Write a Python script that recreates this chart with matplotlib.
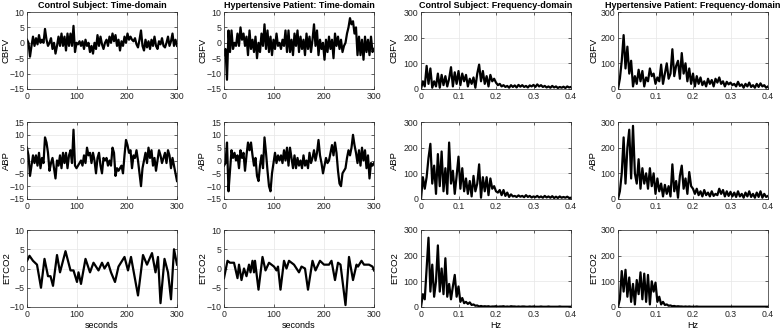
import numpy as np
import matplotlib
matplotlib.use("Agg")
import matplotlib.pyplot as plt

plt.rcParams['font.family'] = ['Liberation Sans', 'DejaVu Sans']

# time axis for the noisy time-domain traces (3 s steps)
t = np.arange(0, 301, 3)

cbfv_ctrl = [1, 0, -4.5, -1, 2, -1, 1.5, -0.5, 2.5, 0, 1, 0, 4.5, 1, -1, 0, 1.5, -2, 0, -3.5,
             -1, 2, -1, 3, -1, 2, -2.5, 3, -1, 3, -1, 5.5, -3, 0, -0.5, 0.5, -1, 0.5, -2, 1,
             -1, 0, -3, -1, -3.5, 0, -2, 2.5, -1, 2, -0.5, -2, 0, 1, -1, 2, 0, 3, 0.5, 2.5,
             -1, 1, -2.5, 0.5, -1, 2, 0, 3, 1, 2, 1, 0.5, 1.5, -0.5, -1.5, 1, 4, -1, -2.5, 1,
             -1.5, 0.5, -2, 1, -1, 2, -1, -2, 0.5, -0.5, 1.5, -1, -1.5, 0, 2, -1, 0.5, 3, -1, 1, -1]

cbfv_hyp = [-4, -2, -12, 4, -3, 4, -2, 0, -1, 3, -1, 5, 1, 3, -1, 2, -4, 4, -2, 1,
            -3, 2, -5, 0, -3, 3, -1, 6, -2, 4, -3, 2, -4, 1, -2, 3, -1, 0, -2, 1,
            -1, 4, -3, 4, -3, 1, -4, 3, -1, 4, -3, 2, -2, 1, -4, 3, -2, 2, -3, 1,
            6, -1, 4, -4, 1, -2, 0, -5.5, 1, -3, 2, -2, 1, -5, 3, -1, 2, -2, 1, -3,
            -1, 0, 3, 5, 8, 6, 7, 3, 5, -4, 2, -4, 1, -5.5, 2, -3, 1, -4, 2, -3, -2]

abp_ctrl = [5, 2, -6, -2, 2, -1, 2, -2, 3, -3, 1, -1, 9, 7, 3, -4, -1, 1, -3, -7,
            0, -2, 2, -3, 3, -1, 3, -3, 2, 4, -1, 12, -2, -3, -2, -1, 0, -2, 2, -1,
            5, 2, 3, -1, 3, 0, -5, 1, 3, -2, -5, 1, 0, 1, -2, 0, -2, 5, 3, -6,
            -3, -4, -3, -2, -5, 2, 8, 6, 3, 4, -3, 2, 1, 4, 0, -5, -10, -3, 0, 3,
            -1, 5, 1, 4, -2, 1, -4, 0, 4, 2, -1, 1, 3, -1, 4, 2, -3, 1, -2, -5, -8]

abp_hyp = [-2, -1, 7, -12, -4, 4, 1, 3, 0, 2, -3, 4, 1, 3, -4, 2, 7, 4, 7, 2,
           -2, 1, -6, -8, -2, 2, -3, 9, 3, -4, -10, -12, -5, -1, 3, -1, 2, 0, 2, -1,
           4, 0, 5, -2, 5, 1, -3, 2, -3, 1, -2, 0, -3, 2, -2, 0, -3, 3, -1, 1,
           4, 0, 3, 8, 2, -1, -5, -2, 1, -1, 0, 3, 6, 2, 7, 3, -4, -9, -10, -5,
           -4, -3, 1, 4, 2, 5, 10, 6, 3, -1, 4, -2, 5, 0, 4, -3, 2, -7, -1, -2, -1]

# smoother end-tidal CO2 traces, read at turning points
t_etco2_ctrl = [0, 5, 12, 20, 28, 35, 42, 47, 52, 60, 66, 77, 87, 93, 100, 103, 108, 117, 126,
                133, 143, 150, 155, 162, 168, 176, 183, 195, 202, 208, 222, 232, 240, 250, 257,
                262, 267, 275, 282, 288, 294, 300]
etco2_ctrl = [2, 3.3, 2, 1, -5, 2.5, -2, -2, -4.5, 3.5, -1, 4.5, -0.5, -0.5, -3.5, -1, -4, 2.5, -1,
              1.5, -0.5, 1.5, 0, 1.5, -1, -3.5, 0.5, 3, -0.5, 3, -7, 3.5, 1, 4, -1,
              3, -9, 2.5, -1, -8, 5, 1]

t_etco2_hyp = [0, 7, 12, 20, 27, 30, 35, 40, 45, 50, 53, 57, 60, 62, 69, 77, 83, 90, 100, 105,
               108, 113, 120, 125, 130, 140, 150, 155, 162, 168, 177, 183, 192, 200, 210, 215,
               222, 228, 233, 243, 250, 258, 265, 268, 275, 280, 290, 297, 300]
etco2_hyp = [-2.5, 2, 1.5, 1.5, -2.5, 1, -3, 0, -2, 1, -1, 2, -1, 2, -5.5, 3, -0.5, 1.5, 0.5, -0.5,
             0.5, -5.5, 2, 0, 2, 1, -1, 0.5, 0, -5.5, 2, -0.5, 2, 1, 1, 2,
             -3, 1.5, 1, -9.5, 3, -3, 1, 0.5, 2, 1, 1, 0.5, -0.5]

# spectra, 0.005 Hz steps
f = np.round(np.arange(0, 0.4001, 0.005), 3)

cbfv_spec_ctrl = [0, 30, 10, 90, 20, 80, 5, 30, 10, 60, 5, 55, 15, 50, 10, 40, 85, 10, 65, 20,
                  70, 15, 60, 30, 55, 10, 40, 20, 45, 5, 60, 95, 30, 70, 20, 50, 10, 55, 30, 40,
                  25, 15, 20, 10, 15, 8, 12, 5, 15, 8, 14, 6, 16, 9, 15, 8, 12, 6, 14, 10,
                  16, 8, 18, 10, 15, 8, 12, 6, 10, 5, 12, 6, 10, 4, 8, 5, 9, 4, 10, 6, 8]

cbfv_spec_hyp = [0, 40, 110, 210, 80, 165, 60, 110, 10, 50, 20, 75, 30, 70, 10, 45, 30, 80, 50, 60,
                 20, 45, 30, 95, 20, 60, 100, 40, 60, 155, 50, 90, 110, 40, 140, 60, 100, 30, 80, 20,
                 60, 10, 50, 20, 45, 15, 30, 10, 40, 20, 35, 10, 40, 25, 45, 20, 30, 10, 28, 18,
                 25, 15, 20, 10, 28, 12, 18, 5, 20, 10, 25, 8, 15, 5, 20, 8, 22, 10, 15, 5, 10]

abp_spec_ctrl = [0, 85, 40, 85, 160, 215, 60, 130, 20, 175, 50, 185, 30, 120, 20, 220, 60, 110, 20, 90,
                 165, 40, 120, 30, 80, 20, 70, 10, 90, 30, 60, 135, 5, 85, 30, 85, 15, 80, 40, 50,
                 30, 25, 35, 15, 35, 12, 25, 8, 18, 10, 12, 8, 14, 9, 12, 7, 15, 8, 12, 6,
                 10, 7, 12, 6, 10, 5, 12, 6, 10, 5, 11, 4, 9, 4, 10, 5, 8, 5, 9, 4, 5]

abp_spec_hyp = [0, 30, 100, 240, 60, 200, 270, 80, 285, 100, 60, 155, 40, 120, 60, 100, 40, 120, 50, 100,
                20, 80, 30, 60, 10, 55, 20, 50, 10, 135, 30, 70, 5, 90, 130, 40, 80, 20, 105, 50,
                40, 20, 40, 15, 30, 10, 35, 15, 25, 10, 30, 12, 20, 15, 40, 20, 35, 10, 30, 12,
                28, 10, 25, 8, 30, 10, 20, 5, 25, 10, 30, 8, 20, 5, 25, 8, 30, 5, 20, 8, 12]

etco2_spec_ctrl = [0, 50, 30, 150, 270, 60, 165, 40, 100, 240, 60, 150, 50, 190, 40, 90, 30, 80, 125, 40,
                   80, 20, 35, 15, 20, 12, 18, 8, 10, 5, 6, 2, 4, 2, 3, 2, 3, 1, 2, 2,
                   3, 1, 2, 2, 3, 1, 2, 1, 3, 2, 2, 1, 2, 1, 2, 2, 1, 1, 2, 1,
                   2, 1, 1, 1, 2, 1, 1, 1, 2, 1, 1, 1, 1, 1, 2, 1, 1, 1, 1, 1, 1]

etco2_spec_hyp = [0, 30, 140, 60, 145, 40, 115, 20, 90, 10, 105, 50, 135, 30, 130, 20, 125, 10, 100, 60,
                  95, 20, 40, 10, 20, 8, 10, 5, 6, 3, 4, 2, 3, 2, 2, 1, 2, 1, 2, 1,
                  1, 1, 2, 1, 1, 1, 1, 1, 1, 1, 1, 1, 1, 1, 1, 1, 1, 1, 1, 1,
                  1, 1, 1, 1, 1, 1, 1, 1, 1, 1, 1, 1, 1, 1, 1, 1, 1, 1, 1, 1, 1]

titles = ["Control Subject: Time-domain", "Hypertensive Patient: Time-domain",
          "Control Subject: Frequency-domain", "Hypertensive Patient: Frequency-domain"]
ylabels = ["CBFV", "ABP", "ETCO2"]

W, H = 781, 336
fig = plt.figure(figsize=(W / 100, H / 100), dpi=100)

lefts = [27, 224, 421, 618]
tops = [12, 122, 230]
aw, ah = 150, 77
# right edge (axes fraction) of the rotated y labels for each column
ylab_x = [-0.107, -0.113, -0.147, -0.133]

panels = [
    [(t, cbfv_ctrl), (t, cbfv_hyp), (f, cbfv_spec_ctrl), (f, cbfv_spec_hyp)],
    [(t, abp_ctrl), (t, abp_hyp), (f, abp_spec_ctrl), (f, abp_spec_hyp)],
    [(t_etco2_ctrl, etco2_ctrl), (t_etco2_hyp, etco2_hyp), (f, etco2_spec_ctrl), (f, etco2_spec_hyp)],
]
time_ylims = [(-15, 10, 5), (-15, 15, 5), (-10, 10, 5)]

for r in range(3):
    for c in range(4):
        ax = fig.add_axes([lefts[c] / W, 1 - (tops[r] + ah) / H, aw / W, ah / H])
        x, y = panels[r][c]
        ax.plot(x, y, color='k', lw=1.6)
        if c < 2:
            lo, hi, st = time_ylims[r]
            ax.set_xlim(0, 300)
            ax.set_xticks([0, 100, 200, 300])
            ax.set_ylim(lo, hi)
            ax.set_yticks(np.arange(lo, hi + 1, st))
            if r == 2:
                ax.set_xlabel("seconds", fontsize=6.5, labelpad=1.5)
        else:
            ax.set_xlim(0, 0.4)
            ax.set_xticks([0, 0.1, 0.2, 0.3, 0.4])
            ax.set_xticklabels(["0", "0.1", "0.2", "0.3", "0.4"])
            ax.set_ylim(0, 300)
            ax.set_yticks([0, 100, 200, 300])
            if r == 2:
                ax.set_xlabel("Hz", fontsize=6.5, labelpad=1.5)
        ax.set_ylabel(ylabels[r], fontsize=6.8)
        ax.yaxis.set_label_coords(ylab_x[c], 0.5)
        if r == 0:
            ax.set_title(titles[c], fontsize=6.5, fontweight='bold', pad=3)
        ax.grid(True, color='#e6e6e6', lw=0.5)
        ax.set_axisbelow(True)
        ax.tick_params(direction='in', labelsize=6.3, length=2, width=0.5, pad=2,
                       colors='#262626', top=True, right=True)
        for s in ax.spines.values():
            s.set_linewidth(0.5)
            s.set_color('#262626')

fig.savefig("out.png", dpi=100)
